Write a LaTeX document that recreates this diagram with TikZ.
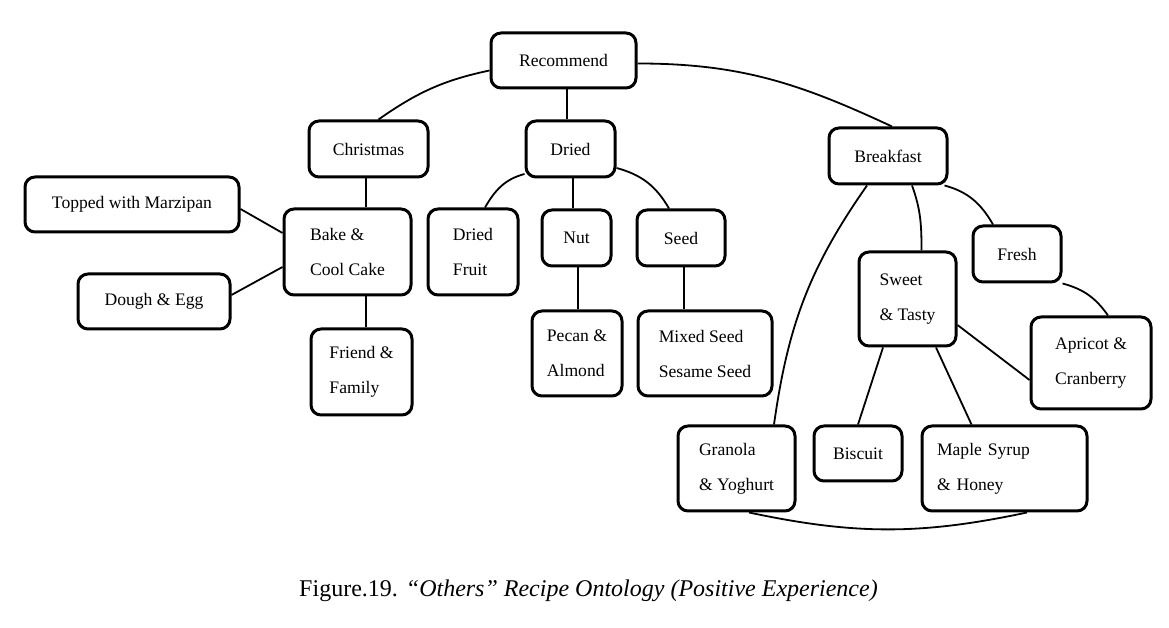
\documentclass[tikz,border=0pt]{standalone}
\usepackage{fontspec}
\setmainfont{Liberation Serif}

\begin{document}
\begin{tikzpicture}[x=1pt, y=1pt,
    box/.style={draw, line width=3pt, rounded corners=10pt, align=left, inner sep=4pt,
                font=\rmfamily\fontsize{17.6pt}{35pt}\selectfont},
    link/.style={line width=1.8pt}]
          \useasboundingbox (0,0) rectangle (1169,628);
          \node[box, minimum width=145pt, minimum height=55pt](0)  at (563.5,567.5) {Recommend};
          \node[box, minimum width=119pt, minimum height=56pt](1)  at (368.5,479)   {Christmas};
          \node[box, minimum width=214pt, minimum height=55pt](2)  at (132,423.5)   {Topped with Marzipan};
          \node[box, minimum width=127pt, minimum height=86pt](3)  at (347.5,376)   {Bake \&\\Cool Cake};
          \node[box, minimum width=152pt, minimum height=55pt](4)  at (154,326.5)   {Dough \& Egg};
          \node[box, minimum width=101pt, minimum height=86pt](5)  at (361.5,256)   {Friend \&\\Family};
          \node[box, minimum width=89pt,  minimum height=56pt](6)  at (570.5,479)   {Dried};
          \node[box, minimum width=90pt,  minimum height=86pt](7)  at (473,376)     {Dried\\Fruit};
          \node[box, minimum width=69pt,  minimum height=56pt](8)  at (576.5,390)   {Nut};
          \node[box, minimum width=88pt,  minimum height=56pt](9)  at (681,390)     {Seed};
          \node[box, minimum width=90pt,  minimum height=85pt](10) at (577,274.5)   {Pecan \&\\Almond};
          \node[box, minimum width=134pt, minimum height=85pt](11) at (705,274.5)   {Mixed Seed\\Sesame Seed};
          \node[box, minimum width=118pt, minimum height=56pt](12) at (888,472)     {Breakfast};
          \node[box, minimum width=88pt,  minimum height=56pt](13) at (1017,374)    {Fresh};
          \node[box, minimum width=97pt,  minimum height=94pt](14) at (907.5,329)   {Sweet\\\& Tasty};
          \node[box, minimum width=120pt, minimum height=92pt](15) at (1091,265)    {Apricot \&\\Cranberry};
          \node[box, minimum width=117pt, minimum height=85pt](16) at (736.5,159.5) {Granola\\\& Yoghurt};
          \node[box, minimum width=88pt,  minimum height=55pt](17) at (858,174.5)   {Biscuit};
          \node[box, minimum width=165pt, minimum height=85pt, text width=135pt, inner xsep=15pt](18) at (1004.5,159.5) {Maple Syrup\\\& Honey};
          \node[font=\rmfamily\fontsize{24pt}{28pt}\selectfont](title) at (588.5,37)
            {Figure.19. \textit{“Others” Recipe Ontology (Positive Experience)}};
          \path[link]
            ([yshift=-10pt]0.west) edge[out=192,in=35] ([xshift=10pt]1.north)
            ([xshift=3.5pt]0.south) edge ([xshift=3.5pt]0.south |- 6.north)
            ([yshift=-3pt]0.east) edge[out=0,in=155] ([xshift=4pt]12.north)
            ([xshift=-2.5pt]1.south) edge ([xshift=-2.5pt]1.south |- 3.north)
            ([yshift=-4.5pt]2.east) edge ([yshift=19pt]3.west)
            ([yshift=6.5pt]4.east) edge ([yshift=-15pt]3.west)
            ([xshift=4.5pt]5.north) edge ([xshift=4.5pt]5.north |- 3.south)
            ([yshift=-25pt]6.west) edge[out=195,in=60] ([xshift=12pt]7.north)
            ([xshift=2.5pt]6.south) edge ([xshift=2.5pt]6.south |- 8.north)
            ([yshift=-19pt]6.east) edge[out=-15,in=120] ([xshift=-12pt]9.north)
            ([xshift=1.5pt]8.south) edge ([xshift=1.5pt]8.south |- 10.north)
            ([xshift=3pt]9.south) edge ([xshift=3pt]9.south |- 11.north)
            ([xshift=-21pt]12.south) edge[out=235,in=82] ([xshift=37.5pt]16.north)
            ([xshift=24pt]12.south) edge[out=-70,in=90] ([xshift=14pt]14.north)
            ([xshift=-4pt]12.south east) edge[out=-15,in=120] ([xshift=-24pt]13.north)
            (13.south east) edge[out=-15,in=125] ([xshift=17pt]15.north)
            ([yshift=-26pt]14.east) edge ([yshift=-17pt]15.west)
            ([xshift=-24.5pt]14.south) edge (17.north)
            ([xshift=28.5pt]14.south) edge ([xshift=-33pt]18.north)
            ([xshift=12.5pt]16.south) edge[out=-12,in=-168] ([xshift=22.5pt]18.south)
            ;
        \end{tikzpicture}
\end{document}
